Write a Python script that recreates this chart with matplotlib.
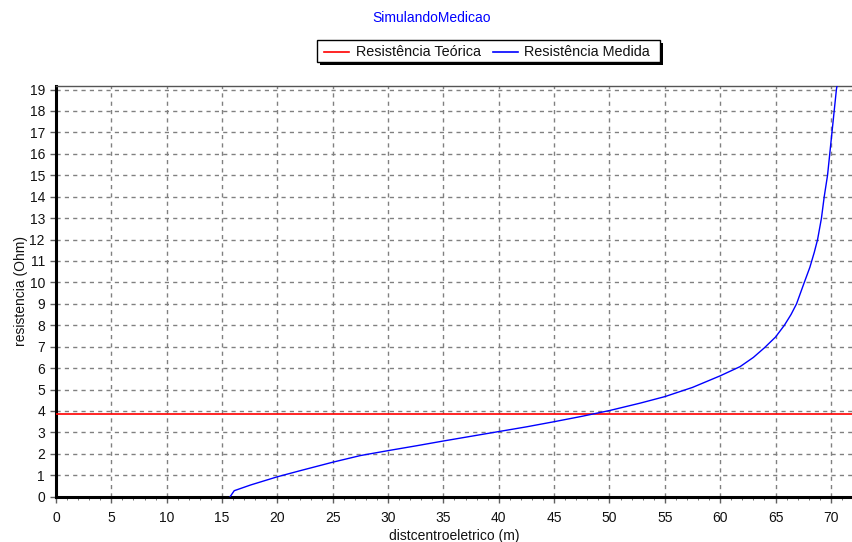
import matplotlib.pyplot as plt
from matplotlib.patches import Rectangle
from matplotlib.lines import Line2D
from matplotlib.ticker import MultipleLocator

plt.rcParams['font.family'] = ['Liberation Sans', 'DejaVu Sans']

# resistencia teorica (Ohm)
resTeorica = 3.86

# curva medida: distancia ao centro eletrico (m) x resistencia (Ohm)
dist = [15.73, 16.1, 17.6, 20.0, 22.1, 25.0, 27.5, 30.0, 32.6, 35.0, 37.5,
        40.0, 42.5, 45.0, 47.5, 50.0, 52.8, 55.0, 57.5, 60.0, 61.8, 63.0,
        64.0, 65.0, 65.8, 66.4, 66.9, 67.6, 68.1, 68.5, 68.8, 69.15, 69.4,
        69.7, 69.9, 70.1, 70.3, 70.5, 70.6]
resMedida = [0.0, 0.28, 0.55, 0.93, 1.22, 1.61, 1.92, 2.15, 2.38, 2.6, 2.82,
             3.04, 3.26, 3.5, 3.75, 4.02, 4.37, 4.67, 5.1, 5.64, 6.07, 6.5,
             6.95, 7.45, 8.0, 8.5, 9.0, 10.0, 10.7, 11.4, 12.0, 13.0, 14.0,
             15.0, 16.0, 17.0, 18.0, 19.0, 19.3]

W, H = 853, 542
fig = plt.figure(figsize=(W / 100, H / 100), dpi=100)
ax = fig.add_axes([56 / W, 1 - 496.7 / H, 1 - 56 / W, (496.7 - 85.7) / H])

ax.axhline(resTeorica, color='#ff0000', lw=1.2, zorder=3)
ax.plot(dist, resMedida, color='#0000ff', lw=1.0, zorder=3)

ax.set_xlim(0, 72)
ax.set_ylim(0, 19.18)
ax.xaxis.set_major_locator(MultipleLocator(5))
ax.xaxis.set_minor_locator(MultipleLocator(1))
ax.yaxis.set_major_locator(MultipleLocator(1))
ax.tick_params(axis='both', which='major', direction='out', length=4, width=1,
               color='#606060', labelsize=10, labelcolor='#111111')
ax.tick_params(axis='x', which='major', pad=6)
ax.tick_params(axis='y', which='major', pad=4)
ax.tick_params(axis='x', which='minor', direction='out', length=2, color='#606060')
ax.grid(True, which='major', color='#808080', ls=(0, (3, 3)), lw=1, zorder=1)

for s in ['left', 'bottom']:
    ax.spines[s].set_linewidth(2.2)
    ax.spines[s].set_color('black')
ax.spines['top'].set_linewidth(1)
ax.spines['top'].set_color('#555555')
ax.spines['right'].set_visible(False)

ax.set_xlabel('distcentroeletrico (m)', fontsize=10, labelpad=3, color='#111111')
ax.set_ylabel('resistencia (Ohm)', fontsize=10, labelpad=1, color='#111111')

fig.text(432 / W, 1 - 18.3 / H, 'SimulandoMedicao', color='#0000ff', fontsize=10,
         ha='center', va='center')

# legenda desenhada a mao: sombra, caixa, linhas e textos
def px(x, y):
    return x / W, 1 - y / H

fig.add_artist(Rectangle(px(320, 64.5), 343 / W, 21.7 / H, transform=fig.transFigure,
                         facecolor='black', edgecolor='none', zorder=5))
fig.add_artist(Rectangle(px(317, 61.7), 343 / W, 21.7 / H, transform=fig.transFigure,
                         facecolor='white', edgecolor='black', lw=1, zorder=6))
ly = 51.7
for (x0, x1), cor, nome, tx in [((324, 349.3), '#ff0000', 'Resistência Teórica', 356),
                                ((492.7, 518.3), '#0000ff', 'Resistência Medida', 524)]:
    fig.add_artist(Line2D([x0 / W, x1 / W], [1 - ly / H] * 2, transform=fig.transFigure,
                          color=cor, lw=1.2, zorder=7))
    fig.text(tx / W, 1 - ly / H, nome, fontsize=10.4, color='#111111',
             ha='left', va='center', zorder=7)

fig.savefig('out.png', dpi=100)
